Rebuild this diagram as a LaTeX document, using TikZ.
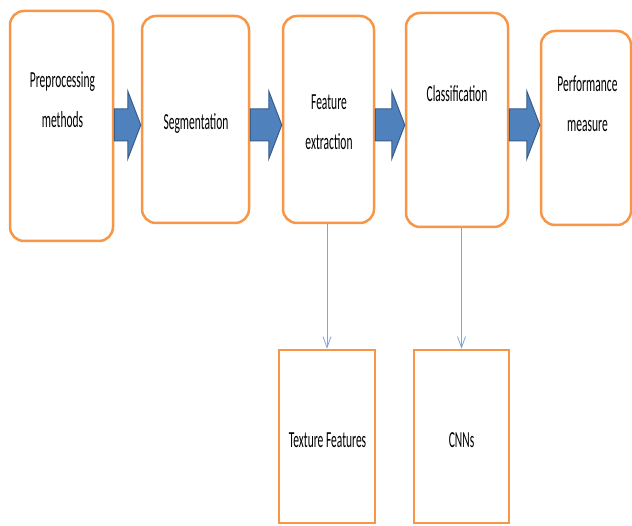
\documentclass[tikz,border=0pt]{standalone}
\usepackage{fontspec}
\setmainfont{Carlito}
\usepackage{graphicx}
\usetikzlibrary{arrows.meta,calc}

\definecolor{boxorange}{HTML}{F79646}
\definecolor{arrowblue}{HTML}{4F81BD}
\definecolor{arrowedge}{HTML}{385D8A}
\definecolor{linkblue}{HTML}{7EA6D8}

% squeezed text, as in the picture
\newcommand{\sq}[1]{\scalebox{0.5}[1]{#1}}
% block arrow between two boxes, centred on y=400
\newcommand{\blockarrow}[2]{%
  \draw[blockarrow] let \p1=(#1.east), \p2=(#2.west) in
    (\x1,384) -- (\x2-13,384) -- (\x2-13,366) -- (\x2,400)
    -- (\x2-13,434) -- (\x2-13,416) -- (\x1,416) -- cycle;}

\begin{document}
\begin{tikzpicture}[
  x=1pt, y=1pt,
  stage/.style={draw=boxorange, line width=2.5pt, rounded corners=14pt,
                fill=white, inner sep=0pt},
  subbox/.style={draw=boxorange, line width=2.5pt, fill=white, inner sep=0pt},
  lbl/.style={font=\fontsize{23}{40}\selectfont, align=center, text=black,
              inner sep=0pt},
  blockarrow/.style={fill=arrowblue, draw=arrowedge, line width=1pt},
  link/.style={draw=linkblue, line width=0.8pt,
               -{Straight Barb[length=11pt, width=8pt]}},
]
  \useasboundingbox (0,0) rectangle (632,525);

  % Main stages
  \node[stage, minimum width=103, minimum height=230] (pre) at (61.5,399) {};
  \node[stage, minimum width=107, minimum height=207] (seg) at (195.5,405.5) {};
  \node[stage, minimum width=91, minimum height=207] (feat) at (328.5,405.5) {};
  \node[stage, minimum width=102, minimum height=214] (cls) at (457,405) {};
  \node[stage, minimum width=90, minimum height=194] (perf) at (586,397) {};

  \node[lbl] (pre-l) at (62.5,425) {\sq{Preprocessing}\\\sq{methods}};
  \node[lbl] (seg-l) at (196,401) {\sq{Segmentation}};
  \node[lbl] (feat-l) at (329,403) {\sq{Feature}\\\sq{extraction}};
  \node[lbl] (cls-l) at (457,431) {\sq{Classification}};
  \node[lbl] (perf-l) at (587.5,421) {\sq{Performance}\\\sq{measure}};

  % Sub-methods
  \node[subbox, minimum width=96, minimum height=173] (tex) at (327,88.5) {};
  \node[subbox, minimum width=95, minimum height=173] (cnn) at (461.5,88.5) {};
  \node[lbl] (tex-l) at (327.5,85) {\sq{Texture Features}};
  \node[lbl] (cnn-l) at (461.5,85) {\sq{CNNs}};

  % Block arrows
  \blockarrow{pre}{seg}
  \blockarrow{seg}{feat}
  \blockarrow{feat}{cls}
  \blockarrow{cls}{perf}

  % Thin links
  \draw[link] (tex.north |- feat.south) -- (tex.north);
  \draw[link] (cnn.north |- cls.south) -- (cnn.north);
\end{tikzpicture}
\end{document}
